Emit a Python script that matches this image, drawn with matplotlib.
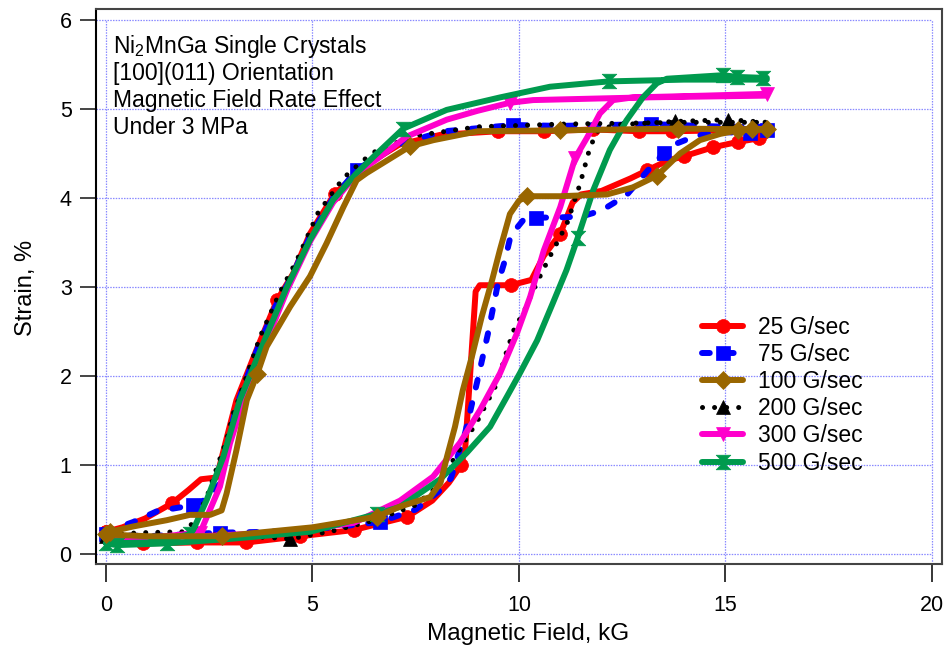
import matplotlib
matplotlib.use('Agg')
import matplotlib.pyplot as plt
from matplotlib.path import Path

plt.rcParams['font.family'] = ['Liberation Sans', 'DejaVu Sans']
plt.rcParams['mathtext.fontset'] = 'custom'
plt.rcParams['mathtext.rm'] = 'Liberation Sans'
plt.rcParams['mathtext.it'] = 'Liberation Sans:italic'
plt.rcParams['mathtext.default'] = 'regular'

# ---------------- data (loops: increasing field, then decreasing field) ----------------
x_ticks = [0, 5, 10, 15, 20]
y_ticks = [0, 1, 2, 3, 4, 5, 6]

labels = ['25 G/sec', '75 G/sec', '100 G/sec', '200 G/sec', '300 G/sec', '500 G/sec']

red_x = [0.0, 0.9, 2.2, 3.4, 4.7, 6.0, 7.3, 7.9, 8.3, 8.6, 8.7, 8.95, 9.05, 9.8, 10.3, 10.6, 11.0, 11.3,
         11.5, 12.0, 12.7, 13.1, 13.6, 14.0, 14.7, 15.3, 15.8, 16.0,
         16.0, 15.0, 13.7, 12.9, 11.8, 10.6, 9.5, 8.1, 7.1, 6.4, 5.54, 4.94, 4.53, 4.14, 3.65, 3.16,
         2.92, 2.68, 2.3, 2.0, 1.6, 0.95, 0.4, 0.0]
red_y = [0.25, 0.12, 0.13, 0.13, 0.2, 0.27, 0.42, 0.6, 0.8, 1.0, 1.2, 2.95, 3.02, 3.02, 3.08, 3.35, 3.6, 3.95,
         4.04, 4.08, 4.22, 4.31, 4.42, 4.47, 4.57, 4.63, 4.67, 4.7,
         4.75, 4.76, 4.75, 4.75, 4.77, 4.75, 4.75, 4.71, 4.6, 4.4, 4.05, 3.6, 3.15, 2.85, 2.3, 1.73,
         1.3, 0.86, 0.84, 0.72, 0.57, 0.4, 0.3, 0.25]
red_marks = [0, 1, 2, 3, 4, 5, 6, 9, 13, 16, 21, 23, 24, 25, 26, 30, 31, 32, 33, 34, 38, 41, 48, 51]

blue_x = [0.0, 1.0, 2.76, 4.0, 5.5, 6.63, 7.5, 8.1, 8.35, 8.7, 8.98, 9.25, 9.49, 9.66, 9.8, 10.1, 10.4, 10.8,
          11.5, 12.0, 12.6, 13.1, 13.5, 13.75, 14.3, 14.9, 15.6, 16.0,
          16.0, 15.0, 13.2, 11.0, 9.85, 8.2, 7.2, 6.5, 6.07, 5.5, 4.94, 4.5, 4.1, 3.62, 3.16, 3.0, 2.76,
          2.4, 2.11, 1.87, 1.23, 0.66, 0.0]
blue_y = [0.22, 0.2, 0.24, 0.25, 0.3, 0.36, 0.5, 0.72, 0.85, 1.37, 1.92, 2.48, 3.04, 3.3, 3.58, 3.75, 3.78, 3.78,
          3.79, 3.86, 4.03, 4.3, 4.5, 4.6, 4.7, 4.74, 4.73, 4.76,
          4.8, 4.8, 4.83, 4.81, 4.82, 4.75, 4.62, 4.45, 4.31, 4.0, 3.57, 3.12, 2.78, 2.25, 1.66, 1.36, 0.79,
          0.61, 0.55, 0.53, 0.48, 0.36, 0.25]
blue_marks = [0, 2, 5, 16, 22, 26, 27, 30, 32, 36, 46]

brown_x = [0.0, 1.0, 2.8, 5.0, 6.56, 7.1, 7.85, 8.1, 8.26, 8.45, 8.64, 8.86, 9.1, 9.35, 9.54, 9.78, 10.0, 10.19,
           11.0, 12.13, 12.76, 13.34, 13.9, 14.38, 14.87, 15.3, 15.65, 16.0,
           16.0, 13.85, 11.0, 9.0, 7.93, 7.36, 6.31, 6.07, 5.75, 5.34, 4.94, 4.46, 3.89, 3.66, 3.41, 3.16,
           2.92, 2.8, 2.52, 2.03, 1.47, 0.66, 0.1, 0.0]
brown_y = [0.22, 0.2, 0.2, 0.3, 0.42, 0.53, 0.64, 0.8, 1.1, 1.43, 1.84, 2.22, 2.67, 3.08, 3.42, 3.82, 3.97, 4.02,
           4.02, 4.04, 4.12, 4.25, 4.5, 4.65, 4.72, 4.76, 4.77, 4.77,
           4.77, 4.78, 4.76, 4.75, 4.65, 4.58, 4.28, 4.2, 3.9, 3.49, 3.12, 2.78, 2.33, 2.02, 1.73, 1.17,
           0.68, 0.49, 0.44, 0.44, 0.38, 0.31, 0.25, 0.22]
brown_marks = [0, 2, 4, 17, 21, 25, 26, 27, 29, 30, 33, 41, 50]

black_x = [0.0, 1.5, 2.76, 4.46, 5.5, 6.5, 7.5, 8.0, 8.52, 9.0, 9.47, 9.71, 9.9, 10.1, 10.31, 10.7, 11.16, 11.48,
           11.72, 11.9, 12.3, 13.78, 15.07, 16.0,
           16.0, 14.0, 11.0, 9.0, 7.5, 6.6, 6.22, 5.74, 5.35, 5.13, 4.62, 4.21, 3.73, 3.16, 3.08, 2.92,
           2.72, 2.56, 2.44, 2.28, 2.11, 1.87, 0.9, 0.0]
black_y = [0.2, 0.2, 0.22, 0.17, 0.26, 0.38, 0.55, 0.75, 1.14, 1.5, 1.92, 2.29, 2.55, 2.7, 2.93, 3.3, 3.71, 4.16,
           4.57, 4.75, 4.82, 4.86, 4.88, 4.85,
           4.85, 4.85, 4.83, 4.8, 4.7, 4.55, 4.42, 4.22, 3.97, 3.83, 3.3, 2.94, 2.44, 1.67, 1.58, 1.28,
           1.02, 0.8, 0.64, 0.49, 0.35, 0.25, 0.24, 0.22]
black_marks = [0, 3, 21, 22]

mag_x = [0.0, 2.3, 4.5, 6.0, 7.12, 7.92, 8.57, 9.06, 9.54, 9.95, 10.27, 10.6, 11.0, 11.36, 11.65, 11.96, 12.28,
         12.76, 14.5, 16.0,
         16.0, 13.0, 10.34, 9.78, 9.0, 8.25, 7.28, 6.6, 6.07, 5.5, 4.95, 4.4, 3.85, 3.35, 3.0, 2.76, 2.52,
         2.28, 1.0, 0.0]
mag_y = [0.18, 0.2, 0.25, 0.35, 0.6, 0.87, 1.25, 1.62, 2.03, 2.48, 2.89, 3.41, 3.9, 4.45, 4.68, 4.95, 5.1,
         5.13, 5.15, 5.17,
         5.15, 5.13, 5.1, 5.07, 4.98, 4.88, 4.69, 4.45, 4.27, 3.95, 3.52, 2.98, 2.35, 1.75, 1.24, 0.76, 0.5,
         0.24, 0.18, 0.18]
mag_marks = [0, 13, 19, 23, 37]

green_x = [0.0, 0.26, 1.47, 3.0, 4.94, 6.56, 7.12, 8.09, 8.74, 9.3, 9.71, 10.02, 10.44, 10.82, 11.15, 11.42,
           11.8, 12.2, 12.6, 13.0, 13.34, 13.58, 14.95, 15.28, 15.92, 16.0,
           16.0, 14.0, 12.17, 10.75, 9.54, 8.25, 7.2, 6.47, 6.07, 5.5, 4.94, 4.38, 3.81, 3.24, 2.84, 2.44,
           2.11, 2.03, 1.0, 0.0]
green_y = [0.12, 0.1, 0.12, 0.17, 0.25, 0.45, 0.53, 0.84, 1.14, 1.43, 1.77, 2.03, 2.4, 2.82, 3.19, 3.55,
           4.09, 4.54, 4.87, 5.13, 5.29, 5.34, 5.38, 5.36, 5.35, 5.35,
           5.33, 5.33, 5.31, 5.25, 5.13, 4.99, 4.78, 4.46, 4.28, 3.98, 3.53, 3.0, 2.37, 1.73, 1.09, 0.61,
           0.27, 0.22, 0.13, 0.12]
green_marks = [0, 1, 2, 5, 15, 22, 23, 24, 28, 32, 43]

annot_lines = ['Ni$_2$MnGa Single Crystals', '[100](011) Orientation',
               'Magnetic Field Rate Effect', 'Under 3 MPa']

# ---------------- figure ----------------
W, H = 946, 652
fig = plt.figure(figsize=(W / 100, H / 100), dpi=100)
L, R, T, B = 96, 941.7, 8.5, 564
ax = fig.add_axes([L / W, 1 - B / H, (R - L) / W, (B - T) / H])
xlo, xhi = -0.242, 20.235
ylo, yhi = -0.112, 6.129
ax.set_xlim(xlo, xhi)
ax.set_ylim(ylo, yhi)

gcol = '#8a8aff'
for gx in x_ticks:
    ax.plot([gx, gx], [ylo, y_ticks[-1]], color=gcol, lw=0.9, ls=(0, (1.2, 1.0)), zorder=1)
for gy in y_ticks:
    ax.plot([xlo, x_ticks[-1]], [gy, gy], color=gcol, lw=0.9, ls=(0, (1.2, 1.0)), zorder=1)

hourglass = Path([(-1, 1), (1, 1), (0, 0), (1, -1), (-1, -1), (0, 0), (-1, 1)],
                 [Path.MOVETO, Path.LINETO, Path.LINETO, Path.LINETO, Path.LINETO, Path.LINETO, Path.CLOSEPOLY])

lw = 4.3
series = [
    (red_x, red_y, red_marks, '#ff0000', '-', 'o', 10, 3),
    (blue_x, blue_y, blue_marks, '#0000ff', (0, (1.3, 2.7)), 's', 10, 4),
    (brown_x, brown_y, brown_marks, '#996600', '-', 'D', 9.5, 8),
    (black_x, black_y, black_marks, '#000000', (0, (0.01, 2.4)), '^', 10, 5),
    (mag_x, mag_y, mag_marks, '#ff00cc', '-', 'v', 10, 6),
    (green_x, green_y, green_marks, '#009a4e', '-', hourglass, 10.5, 7),
]
handles = []
for (xs, ys, mk, col, ls, m, ms, z), lab in zip(series, labels):
    lwi = 3.6 if col == '#000000' else lw
    h, = ax.plot(xs, ys, color=col, lw=lwi, ls=ls, marker=m, ms=ms, markevery=mk,
                 mec=col, mfc=col, mew=0.5, solid_capstyle='round', dash_capstyle='round',
                 solid_joinstyle='round', zorder=z, label=lab)
    handles.append(h)

for s in ax.spines.values():
    s.set_linewidth(1.5)
    s.set_color('#444444')
ax.spines['left'].set_color('black')

ax.set_xticks(x_ticks)
ax.set_yticks(y_ticks)
ax.tick_params(axis='x', direction='out', length=13, width=1.1, pad=9, labelsize=15.5, color='black')
ax.tick_params(axis='y', direction='out', length=11.5, width=1.4, pad=6, labelsize=15.5, color='#444444')

fig.text(528 / W, 1 - 634 / H, 'Magnetic Field, kG', ha='center', va='center', fontsize=17.5)
fig.text(26 / W, 1 - 288 / H, 'Strain, %', ha='center', va='center', fontsize=17, rotation=90)

baselines = [53, 80, 107, 134]
for txt, bl in zip(annot_lines, baselines):
    fig.text(112.5 / W, 1 - bl / H, txt, ha='left', va='baseline', fontsize=16.5)

ax.legend(handles=handles, loc='upper left', bbox_to_anchor=((702 - L) / (R - L), (B - 316) / (B - T)),
          frameon=False, fontsize=16.5, handlelength=1.8, handletextpad=0.65, labelspacing=0.18,
          borderpad=0, borderaxespad=0, numpoints=1)

fig.savefig('out.png', dpi=100)
